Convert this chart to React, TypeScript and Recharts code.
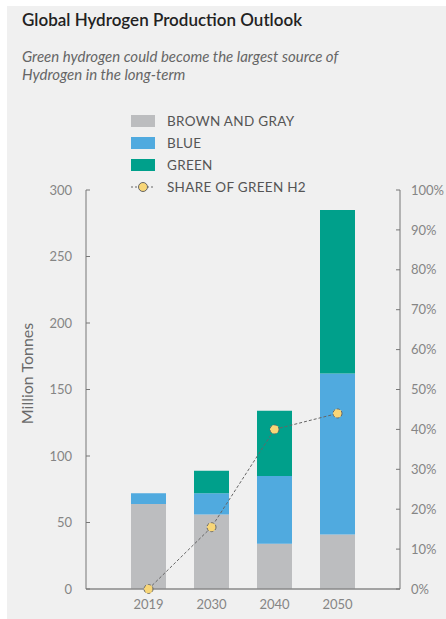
import React from 'react';
import { ComposedChart, Bar, Line, XAxis, YAxis, Legend } from 'recharts';

const years = ['2019', '2030', '2040', '2050'];
const brownGray = [64, 56, 34, 41];
const blue = [8, 16, 51, 121];
const green = [0, 17, 49, 123];
const shareGreen = [0, 15.5, 40, 44];
const leftTicks = [0, 50, 100, 150, 200, 250, 300];
const rightTicks = [0, 10, 20, 30, 40, 50, 60, 70, 80, 90, 100];

const COLORS = { gray: '#bcbdbf', blue: '#50aadf', green: '#00a08b', dot: '#f8d677', line: '#666666' };
const legendItems = [
  { label: 'BROWN AND GRAY', color: COLORS.gray, type: 'rect' },
  { label: 'BLUE', color: COLORS.blue, type: 'rect' },
  { label: 'GREEN', color: COLORS.green, type: 'rect' },
  { label: 'SHARE OF GREEN H2', color: COLORS.dot, type: 'line' },
];

const data = years.map((y, i) => ({
  year: y,
  gray: brownGray[i],
  blue: blue[i],
  green: green[i],
  share: shareGreen[i],
}));

const FONT = 'Lato, "Open Sans", sans-serif';
const tickStyle = { fontSize: 13, fill: '#858585', fontFamily: FONT };

const LegendContent = () => (
  <div style={{ fontFamily: FONT }}>
    {legendItems.map((it) => (
      <div key={it.label} style={{ display: 'flex', alignItems: 'center', height: 22 }}>
        {it.type === 'rect' ? (
          <div style={{ width: 24, height: 12, background: it.color }} />
        ) : (
          <svg width={24} height={12}>
            <line x1={0} y1={6} x2={24} y2={6} stroke={COLORS.line} strokeDasharray="2 2" />
            <circle cx={12} cy={6} r={4.5} fill={it.color} stroke={COLORS.line} strokeWidth={1} />
          </svg>
        )}
        <span style={{ marginLeft: 12, fontSize: 13.5, color: '#555', letterSpacing: 0.3 }}>{it.label}</span>
      </div>
    ))}
  </div>
);

const YLabel = (props: any) => {
  const vb = props.viewBox || {};
  const cx = vb.x - 20;
  const cy = vb.y + vb.height / 2 - 16;
  return (
    <text x={cx} y={cy} transform={`rotate(-90 ${cx} ${cy})`} textAnchor="middle" dominantBaseline="central"
      style={{ fontSize: 16, fill: '#6a6a6a', fontFamily: FONT }}>
      Million Tonnes
    </text>
  );
};

export default function App() {
  return (
    <div style={{ position: 'absolute', left: 0, top: 0, width: 446, height: 619, background: '#ffffff' }}>
      <div style={{ position: 'absolute', left: 7, top: 6, width: 439, height: 613, background: '#f0f0f0' }} />
      <div style={{ position: 'absolute', left: 22, top: 9, fontFamily: FONT, fontSize: 17, fontWeight: 600, color: '#222' }}>
        Global Hydrogen Production Outlook
      </div>
      <div style={{ position: 'absolute', left: 22, top: 47, width: 380, fontFamily: FONT, fontSize: 15, fontStyle: 'italic', color: '#666', lineHeight: '18px' }}>
        Green hydrogen could become the largest source of<br />Hydrogen in the long-term
      </div>
      <div style={{ position: 'absolute', left: 0, top: 0 }}>
        <ComposedChart width={446} height={619} data={data}
          margin={{ top: 190, right: 6, bottom: 0, left: 46 }} style={{ fontFamily: FONT }}>
          <XAxis dataKey="year" padding={{ left: 31, right: 31 }} tickLine={false}
            axisLine={{ stroke: '#8a8a8a', strokeWidth: 1.5 }} tick={tickStyle} tickMargin={5} height={30} />
          <YAxis yAxisId="left" width={40} domain={[0, 300]} ticks={leftTicks} tick={tickStyle}
            axisLine={{ stroke: '#777' }} tickLine={{ stroke: '#777' }} tickSize={-4} tickMargin={18}
            label={<YLabel />} />
          <YAxis yAxisId="right" orientation="right" width={40} domain={[0, 100]} ticks={rightTicks}
            tickFormatter={(v: number) => `${v}%`} tick={tickStyle}
            axisLine={{ stroke: '#777' }} tickLine={{ stroke: '#777' }} tickSize={-4} tickMargin={15} />
          <Legend layout="vertical" align="center" verticalAlign="middle" content={<LegendContent />}
            wrapperStyle={{ position: 'absolute', left: 131, top: 110, width: 'auto' }} />
          <Bar yAxisId="left" dataKey="gray" stackId="a" fill={COLORS.gray} barSize={35} isAnimationActive={false} />
          <Bar yAxisId="left" dataKey="blue" stackId="a" fill={COLORS.blue} barSize={35} isAnimationActive={false} />
          <Bar yAxisId="left" dataKey="green" stackId="a" fill={COLORS.green} barSize={35} isAnimationActive={false} />
          <Line yAxisId="right" dataKey="share" stroke={COLORS.line} strokeWidth={1} strokeDasharray="3 2"
            dot={{ r: 4.5, fill: COLORS.dot, stroke: COLORS.line, strokeWidth: 1 }} isAnimationActive={false} />
        </ComposedChart>
      </div>
    </div>
  );
}
